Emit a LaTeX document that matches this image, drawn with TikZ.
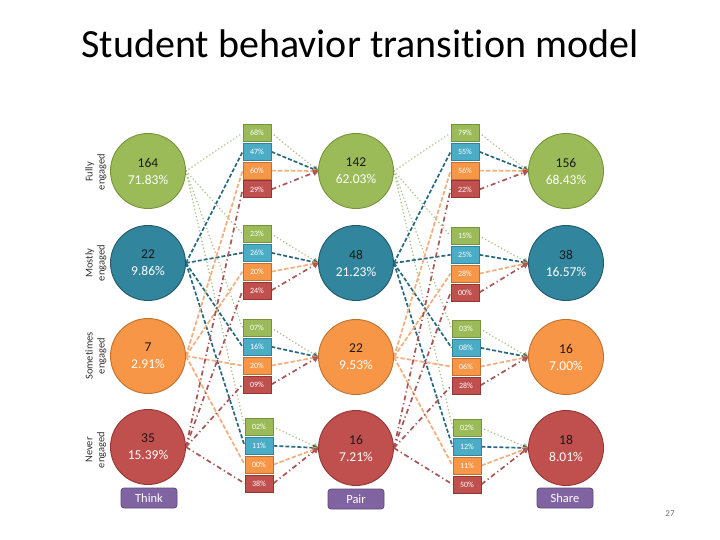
\documentclass[tikz,border=0pt]{standalone}
\usepackage{fontspec}
\setmainfont{Carlito}[Ligatures={NoCommon,NoRequired,NoContextual}]
\usetikzlibrary{arrows.meta,backgrounds}
\definecolor{cgreen}{HTML}{9BBB59}
\definecolor{cgreenD}{HTML}{76923C}
\definecolor{cblue}{HTML}{31859C}
\definecolor{cblueD}{HTML}{215968}
\definecolor{bblue}{HTML}{4BACC6}
\definecolor{bblueD}{HTML}{31849B}
\definecolor{corange}{HTML}{F79646}
\definecolor{corangeD}{HTML}{C0712F}
\definecolor{cred}{HTML}{C0504D}
\definecolor{credD}{HTML}{943634}
\definecolor{cpurple}{HTML}{8064A2}
\definecolor{cpurpleD}{HTML}{5F4A7B}
\definecolor{lgreen}{HTML}{A9BF86}
\definecolor{lblue}{HTML}{2A6A80}
\definecolor{lorange}{HTML}{F3AE7E}
\definecolor{lred}{HTML}{A95656}
\tikzset{
  circ/.style={circle, minimum size=75pt, inner sep=0pt, line width=0.9pt,
    font=\fontsize{13.5}{17}\selectfont, align=center},
  cg/.style={circ, fill=cgreen, draw=cgreenD},
  cb/.style={circ, fill=cblue, draw=cblueD},
  co/.style={circ, fill=corange, draw=corangeD},
  cr/.style={circ, fill=cred, draw=credD},
  pbox/.style={rectangle, minimum width=28pt, minimum height=17pt, inner sep=0pt,
    line width=0.8pt, text=white, font=\fontsize{8}{9}\selectfont},
  bx1/.style={pbox, fill=cgreen, draw=cgreenD},
  bx2/.style={pbox, fill=bblue, draw=bblueD},
  bx3/.style={pbox, fill=corange, draw=corangeD},
  bx4/.style={pbox, fill=cred, draw=credD},
  lab/.style={rectangle, rounded corners=3pt, minimum width=56pt, minimum height=20pt,
    inner sep=0pt, fill=cpurple, draw=cpurpleD, line width=0.8pt, text=white,
    font=\fontsize{12.5}{14}\selectfont},
  rowlab/.style={rotate=90, align=center, text=black!80,
    font=\fontsize{10.5}{12}\selectfont},
  ln1/.style={draw=lgreen, line width=1.7pt, dash pattern=on 0pt off 3.6pt, line cap=round},
  ln2/.style={draw=lblue, line width=1.7pt, dash pattern=on 4pt off 2pt},
  ln3/.style={draw=lorange, line width=1.7pt, dash pattern=on 4.5pt off 2pt},
  ln4/.style={draw=lred, line width=1.7pt, dash pattern=on 5pt off 3pt on 1.2pt off 3pt},
  tip1/.style={-{Triangle[length=6pt,width=6pt,color=lgreen]}},
  tip2/.style={-{Triangle[length=6pt,width=6pt,color=lblue]}},
  tip3/.style={-{Triangle[length=6pt,width=6pt,color=corange]}},
  tip4/.style={-{Triangle[length=6pt,width=6pt,color=lred]}},
}
\newcommand{\cc}[2]{\textcolor{black!90}{#1}\\\textcolor{white}{#2}}
\begin{document}
\begin{tikzpicture}[x=1pt,y=-1pt]
\useasboundingbox (0,0) rectangle (720,540);
% title
\node[anchor=base, font=\fontsize{40}{44}\selectfont, text=black] (title) at (360,58) {Student behavior transition model};
\node[text=black!55, font=\fontsize{9}{10}\selectfont] (pnum) at (670,514) {27};
% row labels
\node[rowlab] (rl1) at (96,172) {Fully\\engaged};
\node[rowlab] (rl2) at (96,263) {Mostly\\engaged};
\node[rowlab] (rl3) at (96,356) {Sometimes\\engaged};
\node[rowlab] (rl4) at (96,450) {Never\\engaged};
% circles
\node[cg] (L1) at (148,171) {\cc{164}{71.83\%}};
\node[cb] (L2) at (148,263) {\cc{22}{9.86\%}};
\node[co] (L3) at (148,356) {\cc{7}{2.91\%}};
\node[cr] (L4) at (148,447) {\cc{35}{15.39\%}};
\node[cg] (M1) at (356,171) {\cc{142}{62.03\%}};
\node[cb] (M2) at (356,263) {\cc{48}{21.23\%}};
\node[co] (M3) at (356,357) {\cc{22}{9.53\%}};
\node[cr] (M4) at (356,448) {\cc{16}{7.21\%}};
\node[cg] (R1) at (566,171) {\cc{156}{68.43\%}};
\node[cb] (R2) at (566,263) {\cc{38}{16.57\%}};
\node[co] (R3) at (566,357) {\cc{16}{7.00\%}};
\node[cr] (R4) at (566,448) {\cc{18}{8.01\%}};
% first box column
\foreach \j/\x/\y/\a/\b/\c/\d in {1/257/133/68/47/60/29, 2/257/234/23/26/20/24,
   3/257/328/07/16/20/09, 4/259/427/02/11/00/38}{
  \node[bx1] (A\j1) at (\x,\y) {\a\%};
  \node[bx2] (A\j2) at (\x,\y+18.8) {\b\%};
  \node[bx3] (A\j3) at (\x,\y+37.6) {\c\%};
  \node[bx4] (A\j4) at (\x,\y+56.4) {\d\%};
}
% second box column
\foreach \j/\x/\y/\a/\b/\c/\d in {1/465/133/79/55/56/22, 2/465/236/15/25/28/00,
   3/466/329/03/08/06/28, 4/467/428/02/12/11/50}{
  \node[bx1] (B\j1) at (\x,\y) {\a\%};
  \node[bx2] (B\j2) at (\x,\y+18.8) {\b\%};
  \node[bx3] (B\j3) at (\x,\y+37.6) {\c\%};
  \node[bx4] (B\j4) at (\x,\y+56.4) {\d\%};
}
% phase labels
\node[lab] (think) at (149,498) {Think};
\node[lab] (pair) at (356,499) {Pair};
\node[lab] (share) at (565,498) {Share};
% connectors
\begin{pgfonlayer}{background}
\fill[white] (0,0) rectangle (720,540);
\foreach \c in {1,2,3,4}{
  \foreach \j in {1,2,3,4}{
    \draw[ln\c] (L\c.east) -- (A\j\c.west);
    \draw[ln\c] (M\c.east) -- (B\j\c.west);
  }
}
\foreach \c in {1,2,3,4}{
  \foreach \j in {1,2,3,4}{
    \draw[ln\c, tip\c, shorten >=-1pt] (A\j\c.east) -- (M\j.west);
    \draw[ln\c, tip\c, shorten >=-1pt] (B\j\c.east) -- (R\j.west);
  }
}
\end{pgfonlayer}
\end{tikzpicture}
\end{document}
